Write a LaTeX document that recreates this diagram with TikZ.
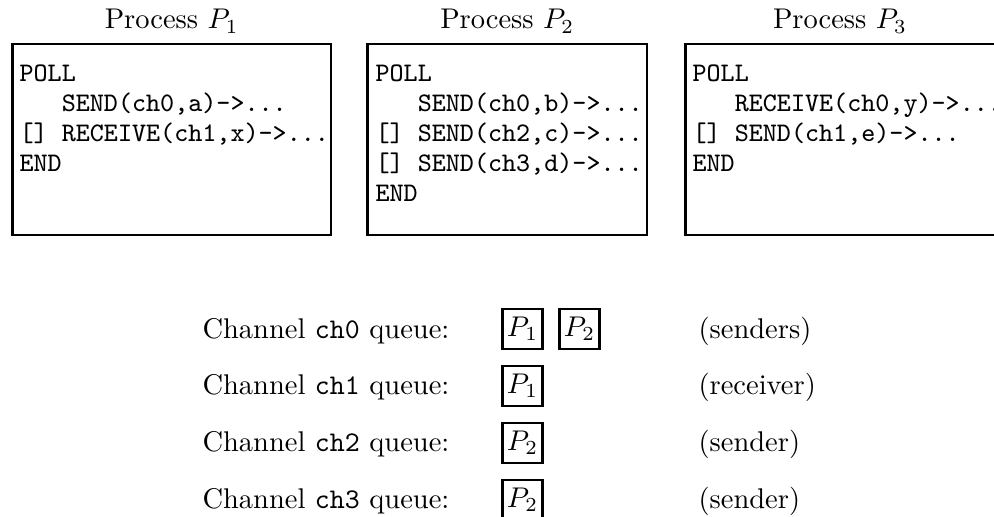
\documentclass[tikz,border=0pt]{standalone}
\usetikzlibrary{fit}
\tikzset{
  x=0.3509pt, y=-0.3509pt,
  procbox/.style={draw, line width=0.85pt, rectangle, inner sep=0pt},
  proctitle/.style={anchor=base, inner sep=0pt, font=\fontsize{10}{12}\selectfont},
  codeline/.style={anchor=base west, inner sep=0pt, font=\fontsize{9.4}{11}\selectfont\ttfamily},
  rowtext/.style={anchor=base west, inner sep=0pt, font=\fontsize{10}{12}\selectfont},
  qbox/.style={draw, line width=0.75pt, rectangle, inner sep=0pt,
    minimum width=14pt, minimum height=14pt, font=\fontsize{10}{12}\selectfont}
}
\begin{document}
\begin{tikzpicture}
\useasboundingbox (0,0) rectangle (994,517);
\clip (0,0) rectangle (994,517);

% process boxes
\coordinate (b1nw) at (12.5,44);   \coordinate (b1se) at (331,235);
\coordinate (b2nw) at (367.5,44);  \coordinate (b2se) at (647,235);
\coordinate (b3nw) at (685.5,44);  \coordinate (b3se) at (1003,235);
\node[procbox, fit=(b1nw)(b1se)] (box1) {};
\node[procbox, fit=(b2nw)(b2se)] (box2) {};
\node[procbox, fit=(b3nw)(b3se)] (box3) {};

% titles
\node[proctitle] (t1) at (171.75,29) {Process $P_1$};
\node[proctitle] (t2) at (507.25,29) {Process $P_2$};
\node[proctitle] (t3) at (840,29) {Process $P_3$};

% code of P1
\node[codeline] (c11) at (19,82)  {POLL};
\node[codeline] (c12) at (19,112) {\ \ \ SEND(ch0,a)->...};
\node[codeline] (c13) at (19,142) {[]\ RECEIVE(ch1,x)->...};
\node[codeline] (c14) at (19,172) {END};

% code of P2
\node[codeline] (c21) at (375,82)  {POLL};
\node[codeline] (c22) at (375,112) {\ \ \ SEND(ch0,b)->...};
\node[codeline] (c23) at (375,142) {[]\ SEND(ch2,c)->...};
\node[codeline] (c24) at (375,172) {[]\ SEND(ch3,d)->...};
\node[codeline] (c25) at (375,202) {END};

% code of P3
\node[codeline] (c31) at (692,82)  {POLL};
\node[codeline] (c32) at (692,112) {\ \ \ RECEIVE(ch0,y)->...};
\node[codeline] (c33) at (692,142) {[]\ SEND(ch1,e)->...};
\node[codeline] (c34) at (692,172) {END};

% channel queues
\node[rowtext] (r0) at (202,338) {Channel \texttt{ch0} queue:};
\node[rowtext] (r1) at (202,395) {Channel \texttt{ch1} queue:};
\node[rowtext] (r2) at (202,452) {Channel \texttt{ch2} queue:};
\node[rowtext] (r3) at (202,509) {Channel \texttt{ch3} queue:};

\node[qbox] (q0a) at (522.5,329) {$P_1$};
\node[qbox] (q0b) at (579.5,329) {$P_2$};
\node[qbox] (q1a) at (522.5,386) {$P_1$};
\node[qbox] (q2a) at (522.5,443) {$P_2$};
\node[qbox] (q3a) at (522.5,500) {$P_2$};

\node[rowtext] (n0) at (698,338) {(senders)};
\node[rowtext] (n1) at (698,395) {(receiver)};
\node[rowtext] (n2) at (698,452) {(sender)};
\node[rowtext] (n3) at (698,509) {(sender)};
\end{tikzpicture}
\end{document}
